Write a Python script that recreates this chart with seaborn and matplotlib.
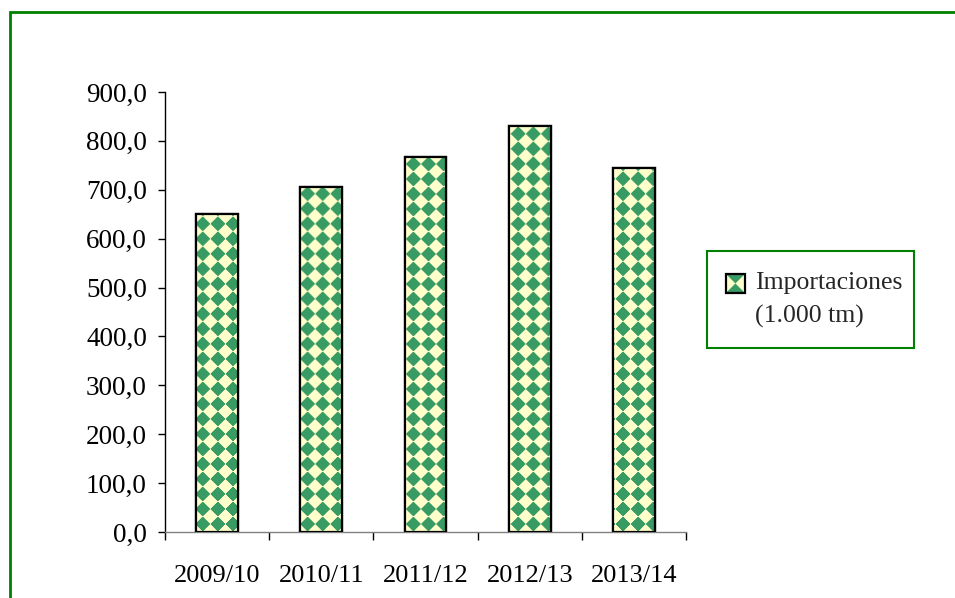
import matplotlib
matplotlib.use("Agg")
import matplotlib.pyplot as plt
import matplotlib.patches as mpatches
import numpy as np
import pandas as pd
import seaborn as sns

# data
campanas = ["2009/10", "2010/11", "2011/12", "2012/13", "2013/14"]
importaciones = [650.0, 705.0, 767.0, 830.0, 744.0]
y_ticks = [0, 100, 200, 300, 400, 500, 600, 700, 800, 900]
y_tick_labels = ["0,0", "100,0", "200,0", "300,0", "400,0",
                 "500,0", "600,0", "700,0", "800,0", "900,0"]
serie = "Importaciones\n(1.000 tm)"

GREEN = "#389b64"
CREAM = "#ffffcc"
FRAME = "#008000"


class HourglassHandler:
    """Small square swatch: cream with green top/bottom wedges, raised to line 1."""

    def legend_artist(self, legend, orig_handle, fontsize, handlebox):
        x0, y0 = -handlebox.xdescent, -handlebox.ydescent
        s = handlebox.height
        y0 += 0.62 * fontsize  # align with first text line
        tr = handlebox.get_transform()
        sq = mpatches.Rectangle((x0, y0), s, s, facecolor=CREAM, edgecolor="none",
                                transform=tr)
        top = mpatches.Polygon([(x0, y0 + s), (x0 + s, y0 + s), (x0 + s / 2, y0 + s / 2)],
                               closed=True, facecolor=GREEN, edgecolor="none", transform=tr)
        bot = mpatches.Polygon([(x0, y0), (x0 + s, y0), (x0 + s / 2, y0 + s / 2)],
                               closed=True, facecolor=GREEN, edgecolor="none", transform=tr)
        box = mpatches.Rectangle((x0, y0), s, s, fill=False, edgecolor="black",
                                 linewidth=1.6, transform=tr)
        for a in (sq, top, bot, box):
            handlebox.add_artist(a)
        return box


sns.set_theme(style="white")
plt.rcParams["font.family"] = ["Liberation Serif", "DejaVu Serif"]

df = pd.DataFrame({"campana": campanas, "valor": importaciones})

fig = plt.figure(figsize=(9.55, 5.98), dpi=100, facecolor="white")
ax = fig.add_axes([165 / 955, 1 - 532 / 598, (686 - 165) / 955, (532 - 92) / 598])

sns.barplot(data=df, x="campana", y="valor", ax=ax, width=0.4,
            color=CREAM, edgecolor="black", linewidth=1.6, saturation=1)

ax.set_ylim(0, 900)
ax.set_xlim(-0.5, len(campanas) - 0.5)
ax.set_yticks(y_ticks)
ax.set_yticklabels(y_tick_labels, fontsize=19.5)
ax.set_xticks(range(len(campanas)))
ax.set_xticklabels(campanas, fontsize=19)
ax.set_xticks(np.arange(-0.5, len(campanas)), minor=True)
ax.tick_params(axis="x", which="major", length=0, pad=24, colors="black")
ax.tick_params(axis="x", which="minor", length=6, width=1, color="black",
               direction="out", bottom=True)
ax.tick_params(axis="y", length=5, width=1, color="black", direction="out",
               left=True, pad=8, colors="black")
ax.set_xlabel("")
ax.set_ylabel("")
for s in ["top", "right"]:
    ax.spines[s].set_visible(False)
ax.spines["left"].set_color("black")
ax.spines["left"].set_linewidth(1)
ax.spines["bottom"].set_color("#808080")
ax.spines["bottom"].set_linewidth(1)

# diamond checker texture, clipped to each bar
fig.canvas.draw()
bb = ax.get_window_extent()
w, h = int(bb.width), int(bb.height)
d = 15.0
yy, xx = np.mgrid[0:h, 0:w]
u = (xx % d) - d / 2
v = (yy % d) - d / 2
mask = (np.abs(u) + np.abs(v)) < d * 0.47
img = np.ones((h, w, 3))
img[:] = matplotlib.colors.to_rgb(CREAM)
img[mask] = matplotlib.colors.to_rgb(GREEN)
for bar in list(ax.patches):
    im = ax.imshow(img, extent=(*ax.get_xlim(), *ax.get_ylim()), aspect="auto",
                   interpolation="bilinear", zorder=bar.get_zorder() + 0.1,
                   origin="lower")
    im.set_clip_path(bar)
# bar outlines on top of the texture
for bar in list(ax.patches):
    ol = mpatches.Rectangle(bar.get_xy(), bar.get_width(), bar.get_height(),
                            fill=False, edgecolor="black", linewidth=1.6, zorder=5)
    ax.add_patch(ol)
ax.set_xlim(-0.5, len(campanas) - 0.5)
ax.set_ylim(0, 900)

# legend (frame drawn separately so the padding can be uneven)
handle = mpatches.Patch(facecolor=CREAM)
leg = fig.legend([handle], [serie], loc="upper left",
                 bbox_to_anchor=(726 / 955, 1 - 272 / 598), fontsize=18.5,
                 frameon=False, borderpad=0, borderaxespad=0,
                 handlelength=0.75, handleheight=0.75, handletextpad=0.38,
                 handler_map={mpatches.Patch: HourglassHandler()})
leg.get_texts()[0].set_linespacing(1.6)
fig.patches.append(mpatches.Rectangle((707 / 955, 1 - 348 / 598), 207 / 955, 97 / 598,
                                      transform=fig.transFigure, fill=False,
                                      edgecolor=FRAME, linewidth=1.5))

# green outer frame (open at right and bottom)
frame = mpatches.Rectangle((10 / 955, -0.05), 1.0, 1 - 12 / 598 + 0.05,
                           transform=fig.transFigure, fill=False,
                           edgecolor=FRAME, linewidth=2, clip_on=False)
fig.patches.append(frame)

fig.savefig("out.png", dpi=100, facecolor="white")
